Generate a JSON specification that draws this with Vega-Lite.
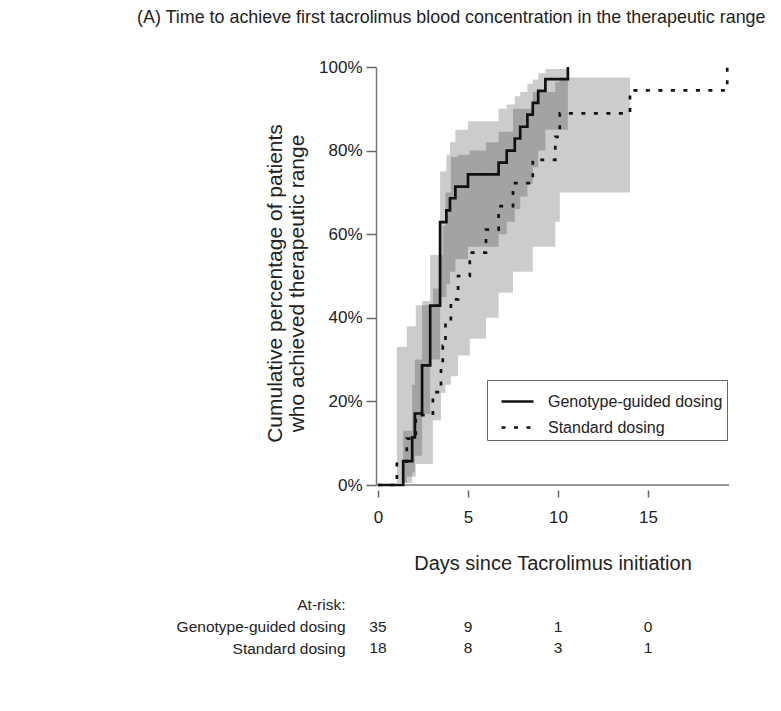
{
  "$schema": "https://vega.github.io/schema/vega-lite/v6.json",
  "autosize": {"type": "pad"},
  "padding": {"left": 137, "top": 9, "right": 0, "bottom": 0},
  "background": "white",
  "bounds": "flush",
  "spacing": 109,
  "config": {"view": {"stroke": null}, "font": "Liberation Sans"},
  "title": {
    "text": "(A) Time to achieve first tacrolimus blood concentration in the therapeutic range",
    "anchor": "start",
    "frame": "group",
    "dx": -239,
    "offset": 17,
    "baseline": "alphabetic",
    "fontSize": 17.9,
    "fontWeight": "normal",
    "color": "#222"
  },
  "datasets": {
    "curves": [
      {"group": "Genotype-guided dosing", "day": 0, "F": 0},
      {"group": "Genotype-guided dosing", "day": 1.4, "F": 0.057},
      {"group": "Genotype-guided dosing", "day": 1.9, "F": 0.114},
      {"group": "Genotype-guided dosing", "day": 2.05, "F": 0.171},
      {"group": "Genotype-guided dosing", "day": 2.45, "F": 0.286},
      {"group": "Genotype-guided dosing", "day": 2.9, "F": 0.429},
      {"group": "Genotype-guided dosing", "day": 3.45, "F": 0.629},
      {"group": "Genotype-guided dosing", "day": 3.8, "F": 0.657},
      {"group": "Genotype-guided dosing", "day": 4.0, "F": 0.686},
      {"group": "Genotype-guided dosing", "day": 4.3, "F": 0.714},
      {"group": "Genotype-guided dosing", "day": 5.0, "F": 0.743},
      {"group": "Genotype-guided dosing", "day": 6.7, "F": 0.771},
      {"group": "Genotype-guided dosing", "day": 7.15, "F": 0.8},
      {"group": "Genotype-guided dosing", "day": 7.6, "F": 0.829},
      {"group": "Genotype-guided dosing", "day": 7.9, "F": 0.857},
      {"group": "Genotype-guided dosing", "day": 8.3, "F": 0.886},
      {"group": "Genotype-guided dosing", "day": 8.6, "F": 0.914},
      {"group": "Genotype-guided dosing", "day": 8.9, "F": 0.943},
      {"group": "Genotype-guided dosing", "day": 9.3, "F": 0.971},
      {"group": "Genotype-guided dosing", "day": 10.55, "F": 1.0},
      {"group": "Standard dosing", "day": 0, "F": 0},
      {"group": "Standard dosing", "day": 1.05, "F": 0.056},
      {"group": "Standard dosing", "day": 1.6, "F": 0.111},
      {"group": "Standard dosing", "day": 2.1, "F": 0.167},
      {"group": "Standard dosing", "day": 3.05, "F": 0.222},
      {"group": "Standard dosing", "day": 3.5, "F": 0.278},
      {"group": "Standard dosing", "day": 3.6, "F": 0.333},
      {"group": "Standard dosing", "day": 3.75, "F": 0.389},
      {"group": "Standard dosing", "day": 4.05, "F": 0.444},
      {"group": "Standard dosing", "day": 4.45, "F": 0.5},
      {"group": "Standard dosing", "day": 5.1, "F": 0.556},
      {"group": "Standard dosing", "day": 6.0, "F": 0.611},
      {"group": "Standard dosing", "day": 6.7, "F": 0.667},
      {"group": "Standard dosing", "day": 7.5, "F": 0.722},
      {"group": "Standard dosing", "day": 8.6, "F": 0.778},
      {"group": "Standard dosing", "day": 9.85, "F": 0.833},
      {"group": "Standard dosing", "day": 10.1, "F": 0.889},
      {"group": "Standard dosing", "day": 14.0, "F": 0.944},
      {"group": "Standard dosing", "day": 19.4, "F": 1.0}
    ],
    "bands": [
      {"group": "Genotype-guided dosing", "day": 0, "lo": 0, "hi": 0},
      {"group": "Genotype-guided dosing", "day": 1.4, "lo": 0.005, "hi": 0.13},
      {"group": "Genotype-guided dosing", "day": 1.9, "lo": 0.03, "hi": 0.24},
      {"group": "Genotype-guided dosing", "day": 2.05, "lo": 0.07, "hi": 0.3},
      {"group": "Genotype-guided dosing", "day": 2.45, "lo": 0.17, "hi": 0.44},
      {"group": "Genotype-guided dosing", "day": 2.9, "lo": 0.3, "hi": 0.55},
      {"group": "Genotype-guided dosing", "day": 3.45, "lo": 0.45, "hi": 0.75},
      {"group": "Genotype-guided dosing", "day": 3.8, "lo": 0.48, "hi": 0.79},
      {"group": "Genotype-guided dosing", "day": 4.0, "lo": 0.51, "hi": 0.82},
      {"group": "Genotype-guided dosing", "day": 4.3, "lo": 0.54, "hi": 0.85},
      {"group": "Genotype-guided dosing", "day": 5.0, "lo": 0.57, "hi": 0.87},
      {"group": "Genotype-guided dosing", "day": 6.7, "lo": 0.6, "hi": 0.9},
      {"group": "Genotype-guided dosing", "day": 7.15, "lo": 0.63, "hi": 0.91},
      {"group": "Genotype-guided dosing", "day": 7.6, "lo": 0.66, "hi": 0.93},
      {"group": "Genotype-guided dosing", "day": 7.9, "lo": 0.69, "hi": 0.94},
      {"group": "Genotype-guided dosing", "day": 8.3, "lo": 0.72, "hi": 0.96},
      {"group": "Genotype-guided dosing", "day": 8.6, "lo": 0.76, "hi": 0.97},
      {"group": "Genotype-guided dosing", "day": 8.9, "lo": 0.8, "hi": 0.985},
      {"group": "Genotype-guided dosing", "day": 9.3, "lo": 0.85, "hi": 0.995},
      {"group": "Genotype-guided dosing", "day": 10.55, "lo": 0.85, "hi": 0.995},
      {"group": "Standard dosing", "day": 0, "lo": 0, "hi": 0},
      {"group": "Standard dosing", "day": 1.05, "lo": 0.005, "hi": 0.33},
      {"group": "Standard dosing", "day": 1.6, "lo": 0.02, "hi": 0.38},
      {"group": "Standard dosing", "day": 2.1, "lo": 0.05, "hi": 0.43},
      {"group": "Standard dosing", "day": 3.05, "lo": 0.155, "hi": 0.47},
      {"group": "Standard dosing", "day": 3.5, "lo": 0.22, "hi": 0.55},
      {"group": "Standard dosing", "day": 3.6, "lo": 0.22, "hi": 0.62},
      {"group": "Standard dosing", "day": 3.75, "lo": 0.24, "hi": 0.7},
      {"group": "Standard dosing", "day": 4.05, "lo": 0.26, "hi": 0.785},
      {"group": "Standard dosing", "day": 4.45, "lo": 0.31, "hi": 0.79},
      {"group": "Standard dosing", "day": 5.1, "lo": 0.35, "hi": 0.8},
      {"group": "Standard dosing", "day": 6.0, "lo": 0.4, "hi": 0.82},
      {"group": "Standard dosing", "day": 6.7, "lo": 0.46, "hi": 0.845},
      {"group": "Standard dosing", "day": 7.5, "lo": 0.51, "hi": 0.9},
      {"group": "Standard dosing", "day": 8.6, "lo": 0.57, "hi": 0.94},
      {"group": "Standard dosing", "day": 9.85, "lo": 0.63, "hi": 0.965},
      {"group": "Standard dosing", "day": 10.1, "lo": 0.7, "hi": 0.975},
      {"group": "Standard dosing", "day": 14.0, "lo": 0.7, "hi": 0.975}
    ],
    "atrisk": [
      {"row": "Genotype-guided dosing", "day": 0, "n": 35},
      {"row": "Genotype-guided dosing", "day": 5, "n": 9},
      {"row": "Genotype-guided dosing", "day": 10, "n": 1},
      {"row": "Genotype-guided dosing", "day": 15, "n": 0},
      {"row": "Standard dosing", "day": 0, "n": 18},
      {"row": "Standard dosing", "day": 5, "n": 8},
      {"row": "Standard dosing", "day": 10, "n": 3},
      {"row": "Standard dosing", "day": 15, "n": 1}
    ]
  },
  "vconcat": [
    {
      "width": 353,
      "height": 418,
      "layer": [
        {
          "data": {"name": "bands"},
          "mark": {"type": "area", "interpolate": "step-after", "color": "black", "opacity": 0.2},
          "encoding": {
            "x": {
              "field": "day", "type": "quantitative",
              "scale": {"domain": [-0.11, 19.5], "nice": false, "zero": false},
              "axis": {
                "values": [0, 5, 10, 15], "domain": false, "offset": 5, "tickSize": 7,
                "tickColor": "#666", "tickWidth": 1.5, "grid": false,
                "labelFontSize": 17, "labelPadding": 12, "labelColor": "#222",
                "title": "Days since Tacrolimus initiation", "titleFontSize": 20,
                "titleFontWeight": "normal", "titleColor": "#222", "titlePadding": 28
              }
            },
            "y": {
              "field": "lo", "type": "quantitative",
              "scale": {"domain": [0, 1], "nice": false},
              "axis": {
                "values": [0, 0.2, 0.4, 0.6, 0.8, 1], "format": ".0%", "grid": false,
                "tickSize": 10, "tickColor": "#666", "tickWidth": 1.5,
                "domainColor": "#777", "domainWidth": 1.5,
                "labelPadding": 4, "labelFontSize": 17, "labelColor": "#222",
                "title": ["Cumulative percentage of patients", "who achieved therapeutic range"],
                "titleFontSize": 21, "titleFontWeight": "normal", "titleColor": "#222",
                "titleLineHeight": 22, "titlePadding": 11, "titleY": 216
              }
            },
            "y2": {"field": "hi"},
            "detail": {"field": "group"}
          }
        },
        {
          "data": {"values": [{}]},
          "mark": {"type": "rule", "color": "#777", "strokeWidth": 1.5},
          "encoding": {"y": {"datum": 0}}
        },
        {
          "data": {"name": "curves"},
          "mark": {"type": "line", "interpolate": "step-after", "color": "#111", "strokeWidth": 2.7},
          "encoding": {
            "x": {"field": "day", "type": "quantitative"},
            "y": {"field": "F", "type": "quantitative"},
            "strokeDash": {
              "field": "group", "type": "nominal",
              "scale": {"domain": ["Genotype-guided dosing", "Standard dosing"], "range": [[1, 0], [4, 8.5]]},
              "legend": {
                "orient": "none", "legendX": 111, "legendY": 313, "title": null,
                "symbolType": "stroke", "symbolSize": 1024, "symbolStrokeWidth": 2.7,
                "symbolStrokeColor": "#111", "symbolOffset": 9,
                "labelFontSize": 16, "labelColor": "#222", "labelLimit": 400,
                "labelOffset": 13, "rowPadding": -12, "padding": 4,
                "strokeColor": "#666", "fillColor": "white"
              }
            }
          }
        }
      ]
    },
    {
      "width": 353,
      "height": 65,
      "data": {"name": "atrisk"},
      "mark": {"type": "text", "fontSize": 15.5, "color": "#222"},
      "encoding": {
        "x": {
          "field": "day", "type": "quantitative",
          "scale": {"domain": [-0.11, 19.5], "nice": false, "zero": false},
          "axis": null
        },
        "y": {
          "field": "row", "type": "nominal",
          "scale": {"domain": ["At-risk:", "Genotype-guided dosing", "Standard dosing"], "paddingInner": 0, "paddingOuter": 0},
          "axis": {
            "title": null, "domain": false, "ticks": false, "labelPadding": 31,
            "labelFontSize": 15.5, "labelColor": "#222", "labelLimit": 400
          }
        },
        "text": {"field": "n", "type": "quantitative"}
      }
    }
  ]
}
